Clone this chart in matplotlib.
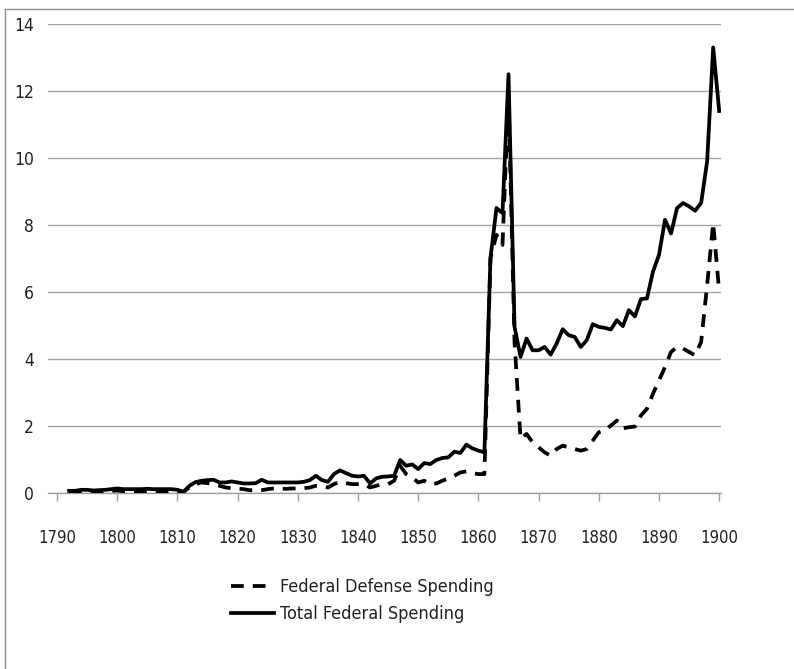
import numpy as np
import matplotlib
matplotlib.use("Agg")
import matplotlib.pyplot as plt
from matplotlib import font_manager as fm
from matplotlib.lines import Line2D

# ---------------- data ----------------
years = list(range(1792, 1901))

total_spending = [
    # 1792-1810
    0.05, 0.05, 0.08, 0.08, 0.06, 0.07, 0.08, 0.10, 0.12, 0.10,
    0.10, 0.10, 0.10, 0.11, 0.10, 0.10, 0.10, 0.10, 0.08,
    # 1811-1830
    0.02, 0.20, 0.31, 0.35, 0.37, 0.38, 0.30, 0.30, 0.33, 0.30,
    0.27, 0.27, 0.28, 0.38, 0.30, 0.30, 0.30, 0.30, 0.30, 0.30,
    # 1831-1850
    0.32, 0.37, 0.50, 0.37, 0.32, 0.55, 0.66, 0.58, 0.50, 0.48,
    0.50, 0.27, 0.42, 0.47, 0.48, 0.50, 0.97, 0.80, 0.84, 0.70,
    # 1851-1860
    0.88, 0.85, 0.97, 1.03, 1.05, 1.22, 1.18, 1.43, 1.32, 1.25,
    # 1861-1870
    1.20, 7.00, 8.50, 8.35, 12.50, 4.95, 4.05, 4.60, 4.25, 4.25,
    # 1871-1880
    4.35, 4.12, 4.45, 4.88, 4.70, 4.65, 4.35, 4.55, 5.03, 4.95,
    # 1881-1890
    4.92, 4.87, 5.15, 4.97, 5.45, 5.26, 5.78, 5.80, 6.60, 7.10,
    # 1891-1900
    8.15, 7.74, 8.50, 8.65, 8.55, 8.42, 8.65, 9.90, 13.30, 11.40,
]

defense_spending = [
    # 1792-1810
    0.02, 0.00, 0.02, 0.03, 0.00, 0.01, 0.03, 0.05, 0.06, 0.04,
    0.03, 0.02, 0.03, 0.04, 0.03, 0.03, 0.04, 0.04, 0.03,
    # 1811-1830
    0.02, 0.15, 0.25, 0.30, 0.28, 0.25, 0.20, 0.15, 0.13, 0.12,
    0.10, 0.07, 0.06, 0.07, 0.10, 0.12, 0.12, 0.11, 0.12, 0.12,
    # 1831-1850
    0.13, 0.15, 0.20, 0.20, 0.15, 0.25, 0.32, 0.28, 0.25, 0.25,
    0.25, 0.15, 0.20, 0.25, 0.25, 0.35, 0.80, 0.55, 0.45, 0.30,
    # 1851-1860
    0.35, 0.25, 0.27, 0.35, 0.42, 0.50, 0.60, 0.63, 0.58, 0.55,
    # 1861-1870
    0.55, 7.00, 7.70, 7.40, 11.90, 4.50, 1.60, 1.75, 1.50, 1.35,
    # 1871-1880
    1.20, 1.10, 1.30, 1.40, 1.35, 1.30, 1.25, 1.30, 1.55, 1.80,
    # 1881-1890
    1.85, 2.00, 2.15, 1.92, 1.95, 1.97, 2.30, 2.50, 2.95, 3.35,
    # 1891-1900
    3.75, 4.20, 4.35, 4.30, 4.20, 4.10, 4.50, 6.20, 8.05, 6.00,
]

x_ticks = list(range(1790, 1901, 10))
y_ticks = list(range(0, 15, 2))
series_labels = ["Federal Defense Spending", "Total Federal Spending"]

# ---------------- fonts ----------------
names = {f.name for f in fm.fontManager.ttflist}
if "Liberation Sans Narrow" in names:
    FAM, STRETCH = "Liberation Sans Narrow", "normal"
elif any(f.name == "DejaVu Sans" and f.stretch == "condensed" for f in fm.fontManager.ttflist):
    FAM, STRETCH = "DejaVu Sans", "condensed"
else:
    FAM, STRETCH = "Liberation Sans", "normal"
plt.rcParams["font.family"] = [FAM, "DejaVu Sans"]
plt.rcParams["font.stretch"] = STRETCH

# ---------------- figure ----------------
W, H = 794, 669
fig = plt.figure(figsize=(W / 100, H / 100), dpi=100)
ax = fig.add_axes([48 / W, 1 - 492.5 / H, (721 - 48) / W, (492.5 - 24) / H])

ax.plot(years, total_spending, color="black", lw=2.7, solid_joinstyle="round",
        label=series_labels[1], zorder=3)
ax.plot(years, defense_spending, color="black", lw=2.7, linestyle=(0, (3.4, 2.4)),
        dash_capstyle="butt", label=series_labels[0], zorder=3)

ax.set_xlim(1788.5, 1900.3)
ax.set_ylim(0, 14)
ax.set_xticks(x_ticks)
ax.set_yticks(y_ticks)
ax.set_xticklabels([str(t) for t in x_ticks])
ax.set_yticklabels([str(t) for t in y_ticks])

ax.grid(axis="y", color="#a6a6a6", lw=1.0)
ax.set_axisbelow(True)
for s in ["left", "right", "top"]:
    ax.spines[s].set_visible(False)
ax.spines["bottom"].set_color("#a0a0a0")
ax.spines["bottom"].set_linewidth(1.0)
ax.tick_params(axis="x", direction="out", length=6, width=1.0, color="#a0a0a0",
               pad=20, labelsize=12, labelcolor="#222222")
ax.tick_params(axis="y", length=0, pad=10, labelsize=12.5, labelcolor="#222222")

# legend (order: defense first)
h = ax.get_legend_handles_labels()
handles = [h[0][1], h[0][0]]
labels = [h[1][1], h[1][0]]
fig.legend(handles, labels, loc="upper left", bbox_to_anchor=(231 / W, 1 - 578 / H),
           frameon=False, fontsize=13, handlelength=2.4, handletextpad=0.3,
           labelspacing=0.5, borderpad=0, borderaxespad=0, labelcolor="#222222")

# outer chart border (left and top visible)
fig.add_artist(Line2D([5 / W, 5 / W], [0, 1 - 9 / H], transform=fig.transFigure,
                      color="#8c8c8c", lw=1.0))
fig.add_artist(Line2D([5 / W, 1], [1 - 9 / H, 1 - 9 / H], transform=fig.transFigure,
                      color="#8c8c8c", lw=1.0))

fig.savefig("out.png", dpi=100)
